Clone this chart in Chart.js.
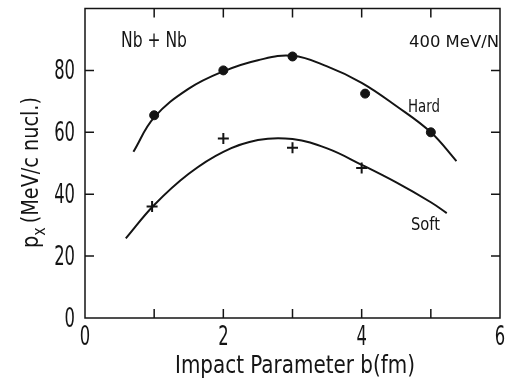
<!DOCTYPE html>
<html>
<head>
<meta charset="utf-8">
<script src="https://cdn.jsdelivr.net/npm/chart.js@4"></script>
<style>
  html, body { margin: 0; padding: 0; background: #fff; }
</style>
</head>
<body>
<canvas id="myChart" width="510" height="379"></canvas>
<script>
// measured points
const hardB = [1, 2, 3, 4.05, 5];
const hardPx = [65.5, 80, 84.5, 72.5, 60];
const softB = [0.97, 2, 3, 4];
const softPx = [36, 58, 55, 48.5];

// model curves
const hardCurveB = [0.70, 1.0, 1.5, 2.0, 2.5, 3.0, 3.5, 4.0, 4.5, 5.0, 5.37];
const hardCurvePx = [53.7, 64.8, 74.1, 79.7, 83.3, 84.7, 81.3, 76, 68.5, 60, 50.7];
const softCurveB = [0.59, 1.0, 1.5, 2.0, 2.5, 3.0, 3.5, 4.0, 4.5, 5.0, 5.23];
const softCurvePx = [25.7, 36.5, 46.6, 53.7, 57.5, 57.8, 54.8, 49.5, 43.8, 37.4, 33.9];

const xTicks = [0, 1, 2, 3, 4, 5, 6];
const xLabels = ['0', '', '2', '', '4', '', '6'];
const yTicks = [0, 20, 40, 60, 80, 100];
const yLabels = ['0', '20', '40', '60', '80', ''];

const FONT = '"DejaVu Sans Condensed", "DejaVu Sans", sans-serif';
const INK = '#141414';

const pts = (xs, ys) => xs.map((x, i) => ({x: x, y: ys[i]}));

// narrow lettering: squeeze the text horizontally by sx
function text(ctx, str, x, y, size, sx, align) {
  ctx.save();
  ctx.font = size + 'px ' + FONT;
  const w = ctx.measureText(str).width * sx;
  let left = x;
  if (align === 'center') left = x - w / 2;
  if (align === 'right') left = x - w;
  ctx.translate(left, y);
  ctx.scale(sx, 1);
  ctx.textAlign = 'left';
  ctx.textBaseline = 'alphabetic';
  ctx.fillText(str, 0, 0);
  ctx.restore();
  return w;
}

// squeeze factor so that str spans width px
function fit(ctx, str, size, width) {
  ctx.font = size + 'px ' + FONT;
  return width / ctx.measureText(str).width;
}

const framePlugin = {
  id: 'frame',
  afterDraw(chart) {
    const {ctx, chartArea: a, scales: {x, y}} = chart;
    ctx.save();
    ctx.strokeStyle = INK;
    ctx.lineWidth = 1.5;
    ctx.strokeRect(a.left, a.top, a.right - a.left, a.bottom - a.top);

    // inward ticks on all four sides
    const len = 9;
    ctx.beginPath();
    xTicks.slice(1, -1).forEach(v => {
      const px = x.getPixelForValue(v);
      ctx.moveTo(px, a.bottom); ctx.lineTo(px, a.bottom - len);
      ctx.moveTo(px, a.top); ctx.lineTo(px, a.top + len);
    });
    yTicks.slice(1, -1).forEach(v => {
      const py = y.getPixelForValue(v);
      ctx.moveTo(a.left, py); ctx.lineTo(a.left + len, py);
      ctx.moveTo(a.right, py); ctx.lineTo(a.right - len, py);
    });
    ctx.stroke();

    ctx.fillStyle = INK;
    const tickSize = 26;
    const tickSx = 0.7;
    yTicks.forEach((v, i) => {
      text(ctx, yLabels[i], a.left - 10, y.getPixelForValue(v) + 9, tickSize, tickSx, 'right');
    });
    xTicks.forEach((v, i) => {
      text(ctx, xLabels[i], x.getPixelForValue(v), a.bottom + 27, tickSize, tickSx, 'center');
    });

    // axis titles
    const xTitle = 'Impact Parameter b(fm)';
    text(ctx, xTitle, 175, 373, 25, fit(ctx, xTitle, 25, 240), 'left');

    // rotated p_x (MeV/c nucl.), squeezed to its full length
    const yMain = '(MeV/c nucl.)';
    const ySize = 23, subSize = 17, gap = 4;
    ctx.font = ySize + 'px ' + FONT;
    let natural = ctx.measureText('p').width + ctx.measureText(yMain).width;
    ctx.font = subSize + 'px ' + FONT;
    natural += ctx.measureText('x').width;
    const ySx = (151 - gap) / natural;
    ctx.save();
    ctx.translate(38, 248);
    ctx.rotate(-Math.PI / 2);
    let cx = text(ctx, 'p', 0, 0, ySize, ySx, 'left');
    cx += text(ctx, 'x', cx, 7, subSize, ySx, 'left') + gap;
    text(ctx, yMain, cx, 0, ySize, ySx, 'left');
    ctx.restore();

    // annotations
    const sys = 'Nb + Nb';
    text(ctx, sys, 121, 47, 21, fit(ctx, sys, 21, 66), 'left');
    const energy = '400 MeV/N';
    text(ctx, energy, 409, 47, 16, fit(ctx, energy, 16, 90), 'left');
    text(ctx, 'Hard', 408, 111.5, 18, fit(ctx, 'Hard', 18, 32), 'left');
    text(ctx, 'Soft', 411, 230, 18, fit(ctx, 'Soft', 18, 29), 'left');
    ctx.restore();
  }
};

new Chart(document.getElementById('myChart'), {
  type: 'scatter',
  data: {
    datasets: [
      {
        label: 'Hard curve',
        data: pts(hardCurveB, hardCurvePx),
        showLine: true, pointRadius: 0, borderColor: INK, borderWidth: 2,
        tension: 0.4
      },
      {
        label: 'Soft curve',
        data: pts(softCurveB, softCurvePx),
        showLine: true, pointRadius: 0, borderColor: INK, borderWidth: 2,
        tension: 0.4
      },
      {
        label: 'Hard',
        data: pts(hardB, hardPx),
        pointStyle: 'circle', pointRadius: 4.5,
        backgroundColor: INK, borderColor: INK, borderWidth: 1
      },
      {
        label: 'Soft',
        data: pts(softB, softPx),
        pointStyle: 'cross', pointRadius: 5.5,
        borderColor: INK, borderWidth: 2
      }
    ]
  },
  options: {
    responsive: false,
    animation: false,
    layout: { padding: { left: 0, top: 8.5, right: 10, bottom: 0 } },
    plugins: {
      legend: { display: false },
      tooltip: { enabled: false }
    },
    scales: {
      x: {
        type: 'linear', min: 0, max: 6,
        afterFit: s => { s.height = 61; },
        grid: { display: false },
        border: { display: false },
        ticks: { display: false, stepSize: 1 }
      },
      y: {
        type: 'linear', min: 0, max: 100,
        afterFit: s => { s.width = 85; },
        grid: { display: false },
        border: { display: false },
        ticks: { display: false, stepSize: 20 }
      }
    }
  },
  plugins: [framePlugin]
});
</script>
</body>
</html>
